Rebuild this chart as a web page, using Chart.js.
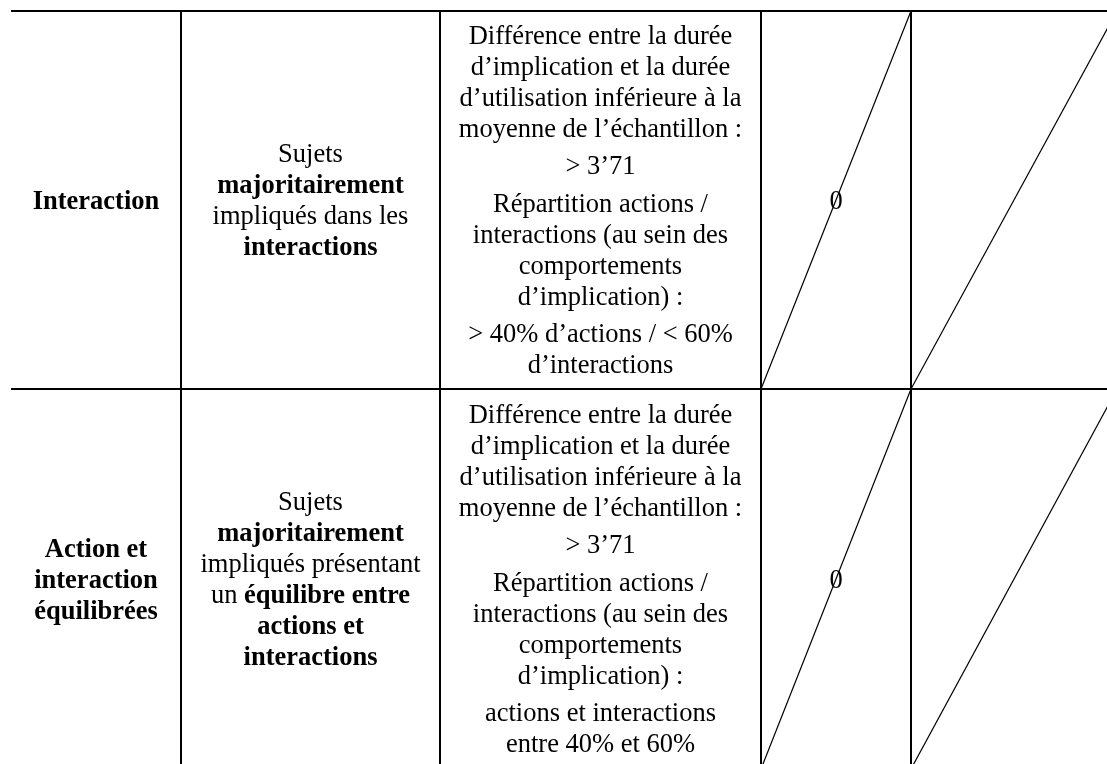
<!DOCTYPE html>
<html><head><meta charset="utf-8">
<script src="https://cdn.jsdelivr.net/npm/chart.js@4"></script>
<style>html,body{margin:0;padding:0;background:#fff;}canvas{display:block;}</style>
</head><body>
<canvas id="c" width="1107" height="764"></canvas>
<script>
// ---- table content (data) ----
const rowLabels = [
  ["Interaction"],
  ["Action et", "interaction", "équilibrées"]
];
const profiles = [
  ["Sujets", "**majoritairement**", "impliqués dans les", "**interactions**"],
  ["Sujets", "**majoritairement**", "impliqués présentant", "un **équilibre entre**", "**actions et**", "**interactions**"]
];
const criteriaDuration = ["Différence entre la durée", "d’implication et la durée", "d’utilisation inférieure à la", "moyenne de l’échantillon :"];
const durationThreshold = ["> 3’71", "> 3’71"];
const criteriaSplit = ["Répartition actions /", "interactions (au sein des", "comportements", "d’implication) :"];
const splitThreshold = [
  ["> 40% d’actions / < 60%", "d’interactions"],
  ["actions et interactions", "entre 40% et 60%"]
];
const col4Values = ["0", "0"];
const col5Values = ["", ""];
const struckColumns = [3, 4];

// ---- layout (pixel units of the scales) ----
const colEdges = [11, 181, 440, 761, 911, 1117];
const rowEdges = [11, 389, 769];
const FONT = '"Liberation Serif", "Times New Roman", serif';
const FS = 26.5, LH = 31, PG = 6.3, BASE_OFF = 8.5;

function seg(x1, y1, x2, y2) { return [{x: x1, y: y1}, {x: x2, y: y2}]; }
const datasets = [];
function addLine(pts, w) {
  datasets.push({data: pts, showLine: true, borderColor: '#000', borderWidth: w,
    pointRadius: 0, pointHoverRadius: 0, fill: false, tension: 0});
}
// horizontal rules
rowEdges.forEach(y => addLine(seg(colEdges[0], y, colEdges[colEdges.length - 1], y), 2));
// vertical rules (interior)
colEdges.slice(1, -1).forEach(x => addLine(seg(x, rowEdges[0], x, rowEdges[rowEdges.length - 1]), 2));
// diagonals in struck cells
for (let r = 0; r < rowEdges.length - 1; r++) {
  struckColumns.forEach(c => addLine(seg(colEdges[c], rowEdges[r + 1], colEdges[c + 1], rowEdges[r]), 1.2));
}

function parse(line, baseBold) {
  return line.split('**').map((t, i) => ({t, b: baseBold || i % 2 === 1})).filter(p => p.t.length);
}
function drawRich(ctx, cx, y, line, baseBold) {
  const parts = parse(line, baseBold);
  let total = 0;
  parts.forEach(p => { ctx.font = (p.b ? 'bold ' : '') + FS + 'px ' + FONT; p.w = ctx.measureText(p.t).width; total += p.w; });
  let x = cx - total / 2;
  parts.forEach(p => { ctx.font = (p.b ? 'bold ' : '') + FS + 'px ' + FONT; ctx.fillText(p.t, x, y); x += p.w; });
}
function drawBlock(ctx, cx, cy, paras, baseBold) {
  const n = paras.reduce((s, p) => s + p.length, 0);
  const h = (n - 1) * LH + (paras.length - 1) * PG;
  let y = cy - h / 2 + BASE_OFF;
  paras.forEach(p => { p.forEach(line => { drawRich(ctx, cx, y, line, baseBold); y += LH; }); y += PG; });
}

const textPlugin = {
  id: 'tableText',
  afterDatasetsDraw(chart) {
    const ctx = chart.ctx, xs = chart.scales.x, ys = chart.scales.y;
    ctx.save();
    ctx.fillStyle = '#000';
    ctx.textAlign = 'left';
    ctx.textBaseline = 'alphabetic';
    for (let r = 0; r < rowLabels.length; r++) {
      const cy = (ys.getPixelForValue(rowEdges[r]) + ys.getPixelForValue(rowEdges[r + 1])) / 2;
      const cx = c => (xs.getPixelForValue(colEdges[c]) + xs.getPixelForValue(colEdges[c + 1])) / 2;
      drawBlock(ctx, cx(0), cy, [rowLabels[r]], true);
      drawBlock(ctx, cx(1), cy, [profiles[r]], false);
      drawBlock(ctx, cx(2), cy, [criteriaDuration, [durationThreshold[r]], criteriaSplit, splitThreshold[r]], false);
      if (col4Values[r]) drawBlock(ctx, cx(3), cy, [[col4Values[r]]], false);
      if (col5Values[r]) drawBlock(ctx, cx(4), cy, [[col5Values[r]]], false);
    }
    ctx.restore();
  }
};

new Chart(document.getElementById('c'), {
  type: 'scatter',
  data: {datasets},
  options: {
    responsive: false, devicePixelRatio: 1, animation: false,
    layout: {padding: 0},
    plugins: {legend: {display: false}, tooltip: {enabled: false}},
    events: [],
    scales: {
      x: {type: 'linear', min: 0, max: 1107, display: false},
      y: {type: 'linear', min: 0, max: 764, reverse: true, display: false}
    }
  },
  plugins: [textPlugin]
});
</script>
</body></html>
